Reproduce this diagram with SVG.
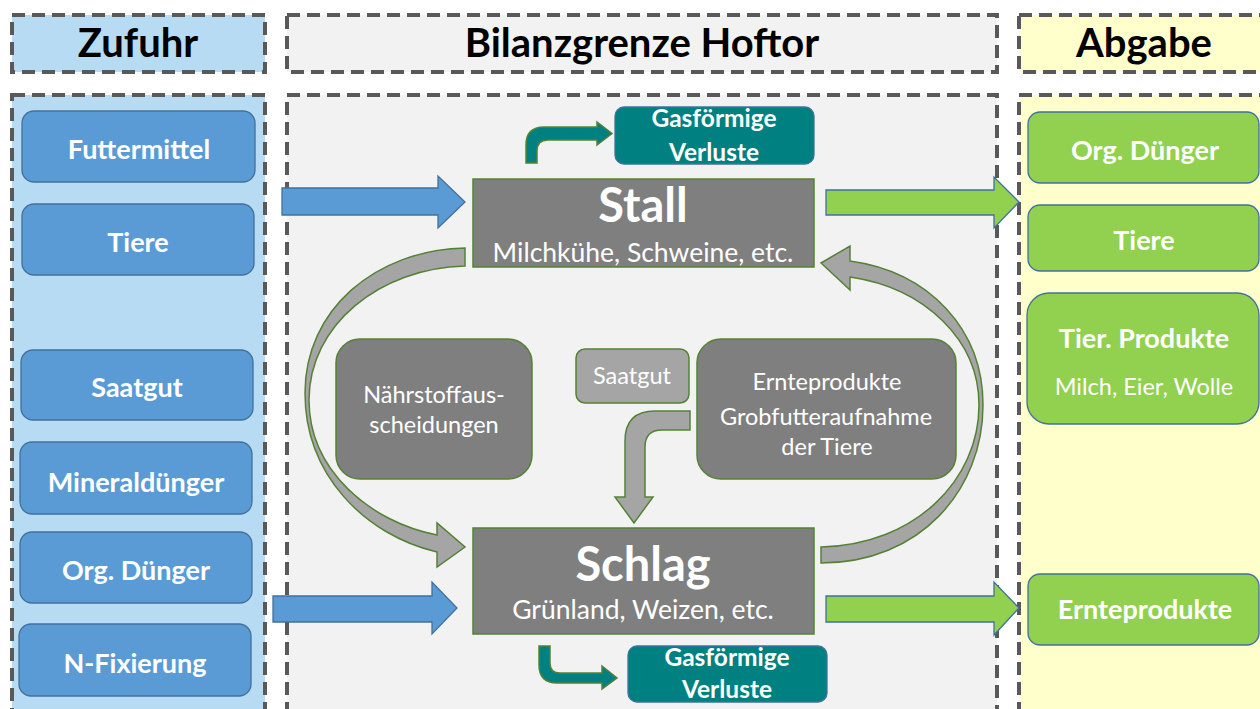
<svg xmlns="http://www.w3.org/2000/svg" width="1260" height="709" viewBox="0 0 1260 709">
<style>
.panel{stroke:#595959;stroke-width:4;stroke-dasharray:13 7}
.blue{fill:#5b9bd5;stroke:#41719c;stroke-width:1.3}
.green{fill:#92d050;stroke:#41719c;stroke-width:1.3}
.teal{fill:#008080;stroke:#41719c;stroke-width:1.3}
.gray{fill:#7f7f7f;stroke:#548235;stroke-width:1.5}
.lgray{fill:#a5a5a5;stroke:#548235;stroke-width:1.5}
.tarrow{fill:#008080;stroke:#548235;stroke-width:1.5}
.barrow{fill:#5b9bd5;stroke:#41719c;stroke-width:1.3}
.garrow{fill:#92d050;stroke:#41719c;stroke-width:1.3}
text{font-family:Lato,"Liberation Sans",sans-serif;text-anchor:middle}
.h{font-size:40px;font-weight:bold;fill:#000}
.n{font-size:27px;font-weight:bold;fill:#fff}
.s{font-size:23.5px;fill:#fff}
.big{font-size:47px;font-weight:bold;fill:#fff}
.sub{font-size:26.5px;fill:#fff}
.gas{font-size:24.5px;font-weight:bold;fill:#fff}
</style>
<rect width="1260" height="709" fill="#ffffff"/>
<g id="panels">
<rect class="panel" x="12" y="15" width="253" height="57" fill="#b7dbf3"/>
<rect class="panel" x="287" y="15" width="710" height="57" fill="#f2f2f2"/>
<rect class="panel" x="1019" y="15" width="260" height="57" fill="#ffffcc"/>
<rect class="panel" x="12" y="95" width="253" height="640" fill="#b7dbf3"/>
<rect class="panel" x="287" y="95" width="710" height="640" fill="#f2f2f2"/>
<rect class="panel" x="1019" y="95" width="260" height="640" fill="#ffffcc"/>
<text class="h" x="138" y="57">Zufuhr</text>
<text class="h" x="642" y="57">Bilanzgrenze Hoftor</text>
<text class="h" x="1144" y="57">Abgabe</text>
</g>
<g id="connectors">
<path class="barrow" d="M282,188 L438,188 L438,176 L465,202 L438,228 L438,215 L282,215 Z"/>
<path class="barrow" d="M273,596 L432,596 L432,582 L457,608 L432,634 L432,622 L273,622 Z"/>
<path class="garrow" d="M826,190 L994,190 L994,177 L1019,202 L994,228 L994,215 L826,215 Z"/>
<path class="garrow" d="M826,596 L994,596 L994,582 L1019,608 L994,635 L994,622 L826,622 Z"/>
<path class="tarrow" d="M526,163 L526,145 Q526,127 544,127 L597,127 L597,122 L612,133.5 L597,145 L597,140 L548,140 Q537,140 537,151 L537,163 Z"/>
<path class="tarrow" d="M539,646 L539,665 Q539,683 557,683 L602,683 L602,689 L617,678 L602,666 L602,673 L560,673 Q550,673 550,663 L550,646 Z"/>
<path class="lgray" d="M465,248 C375,250 305,310 305,393 C305,475 365,535 437,552 L437,567 L465,547 L437,523 L437,535 C370,522 309,470 309,400 C309,325 380,268 465,266 Z"/>
<path class="lgray" d="M821,563 C920,563 983,490 983,405 C983,330 930,272 850,261 L850,246 L821,263 L850,290 L850,277 C925,288 979,340 979,405 C979,480 915,545 821,547 Z"/>
<path class="lgray" d="M690,411 L655,411 Q625,411 625,441 L625,497 L615,497 L634,523 L653,497 L645,497 L645,447 Q645,430 662,430 L690,430 Z"/>
</g>
<g id="futtermittel"><rect class="blue" x="22" y="111" width="233" height="71" rx="12"/><text class="n" x="139" y="159">Futtermittel</text></g>
<g id="tiere-in"><rect class="blue" x="22" y="204" width="232" height="71" rx="12"/><text class="n" x="138" y="252">Tiere</text></g>
<g id="saatgut-in"><rect class="blue" x="21" y="350" width="232" height="70" rx="12"/><text class="n" x="137" y="397">Saatgut</text></g>
<g id="mineralduenger"><rect class="blue" x="20" y="442" width="232" height="72" rx="12"/><text class="n" x="136" y="492">Mineraldünger</text></g>
<g id="orgduenger-in"><rect class="blue" x="20" y="532" width="232" height="71" rx="12"/><text class="n" x="136" y="580">Org. Dünger</text></g>
<g id="nfixierung"><rect class="blue" x="19" y="624" width="232" height="72" rx="12"/><text class="n" x="135" y="673">N-Fixierung</text></g>
<g id="orgduenger-out"><rect class="green" x="1028" y="112" width="231" height="71" rx="12"/><text class="n" x="1145" y="160">Org. Dünger</text></g>
<g id="tiere-out"><rect class="green" x="1028" y="205" width="231" height="66" rx="12"/><text class="n" x="1144" y="250">Tiere</text></g>
<g id="tierprodukte"><rect class="green" x="1027" y="293" width="232" height="131" rx="22"/><text class="n" x="1144" y="348">Tier. Produkte</text><text class="s" x="1144" y="395">Milch, Eier, Wolle</text></g>
<g id="ernteprodukte-out"><rect class="green" x="1028" y="574" width="231" height="71" rx="12"/><text class="n" x="1145" y="619">Ernteprodukte</text></g>
<g id="stall"><rect class="gray" x="473" y="179" width="341" height="88"/><text class="big" x="643" y="222">Stall</text><text class="sub" x="643" y="262">Milchkühe, Schweine, etc.</text></g>
<g id="schlag"><rect class="gray" x="473" y="528" width="341" height="106"/><text class="big" x="643" y="581">Schlag</text><text class="sub" x="643" y="619">Grünland, Weizen, etc.</text></g>
<g id="gas-top"><rect class="teal" x="615" y="107" width="199" height="57" rx="9"/><text class="gas" x="714" y="127">Gasförmige</text><text class="gas" x="714" y="161">Verluste</text></g>
<g id="gas-bottom"><rect class="teal" x="628" y="646" width="199" height="56" rx="9"/><text class="gas" x="727" y="666">Gasförmige</text><text class="gas" x="727" y="698">Verluste</text></g>
<g id="naehrstoff"><rect class="gray" x="336" y="339" width="196" height="140" rx="24"/><text class="s" x="434" y="403">Nährstoffaus-</text><text class="s" x="434" y="433">scheidungen</text></g>
<g id="saatgut-mid"><rect class="lgray" x="576" y="349" width="113" height="54" rx="9"/><text class="s" x="632" y="384">Saatgut</text></g>
<g id="ernteprodukte-mid"><rect class="gray" x="697" y="339" width="259" height="140" rx="24"/><text class="s" x="827" y="390">Ernteprodukte</text><text class="s" x="826" y="425">Grobfutteraufnahme</text><text class="s" x="827" y="455">der Tiere</text></g>
</svg>
